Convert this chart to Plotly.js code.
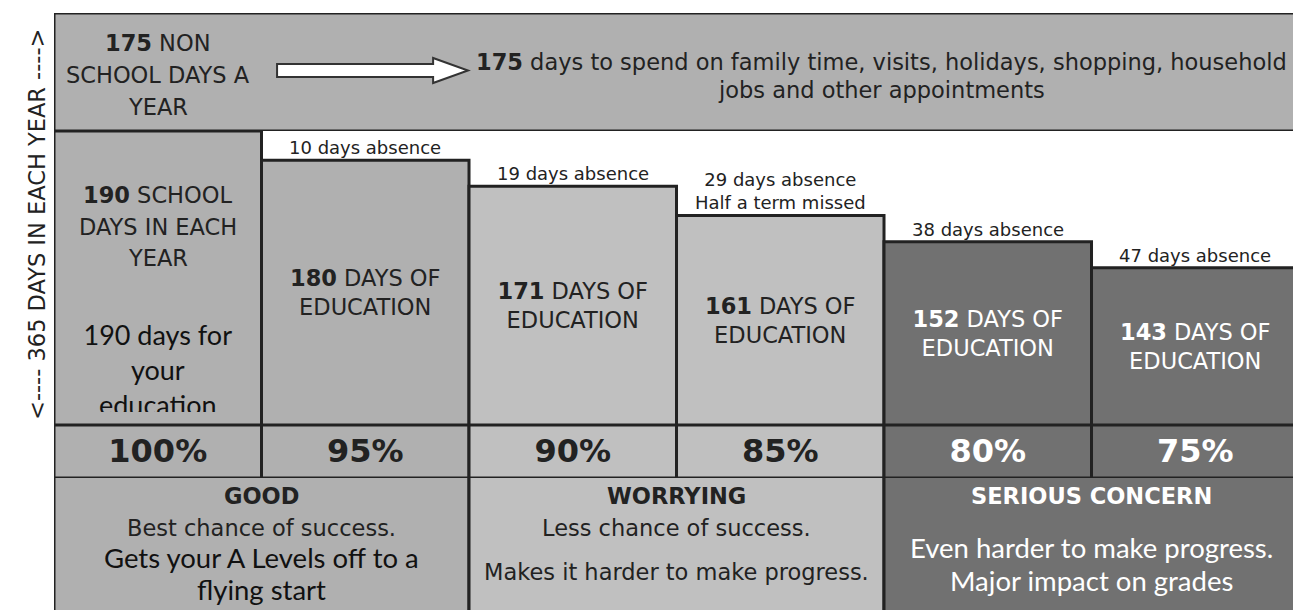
<!DOCTYPE html>
<html>
<head>
<meta charset="utf-8">
<script src="https://cdn.plot.ly/plotly-3.0.1.min.js"></script>
<style>html,body{margin:0;padding:0;background:#fff;}#chart{width:1293px;height:610px;}</style>
</head>
<body>
<div id="chart"></div>
<script>
// ---------------- DATA ----------------
const attendancePct   = [100, 95, 90, 85, 80, 75];
const educationDays   = [190, 180, 171, 161, 152, 143];
const absenceDays     = [0, 10, 19, 29, 38, 47];
const absenceNotes    = ['', '', '', 'Half a term missed', '', ''];
const totalDays       = 365;
const schoolDays      = 190;
const nonSchoolDays   = 175;
const bandNames       = ['GOOD', 'WORRYING', 'SERIOUS CONCERN'];
const bandLine1       = ['Best chance of success.', 'Less chance of success.', ''];
const bandLine2       = [['Gets your A Levels off to a', 'flying start'], ['Makes it harder to make progress.'], ['Even harder to make progress.', 'Major impact on grades']];
const bandColumns     = [[0, 1], [2, 3], [4, 5]];

// ---------------- STYLE ----------------
const colColors  = ['#b0b0b0', '#b0b0b0', '#c0c0c0', '#c0c0c0', '#717171', '#717171'];
const colText    = ['#222', '#222', '#222', '#222', '#fff', '#fff'];
const bandColors = ['#b0b0b0', '#c0c0c0', '#717171'];
const bandText   = ['#222', '#222', '#fff'];
const bandText2  = ['#111', '#222', '#fff'];
const edge = {color: '#222', width: 3};
const VERDANA = 'DejaVu Sans, Verdana, sans-serif';
const CALIBRI = 'Lato, Open Sans, sans-serif';

const xs = attendancePct.map((_, i) => i);
const barMin = 89; // visual baseline of the bar panel
const bandX = bandColumns.map(c => (c[0] + c[c.length - 1]) / 2);
const bandW = bandColumns.map(c => c.length);

const traces = [];
// bottom verdict row
traces.push({
  type: 'bar', xaxis: 'x', yaxis: 'y', x: bandX, width: bandW,
  y: bandNames.map(() => 1.2), base: bandNames.map(() => -0.1),
  marker: {color: bandColors, line: edge}, cliponaxis: false, hoverinfo: 'skip', showlegend: false
});
// percent row
traces.push({
  type: 'bar', xaxis: 'x', yaxis: 'y2', x: xs, width: xs.map(() => 1),
  y: xs.map(() => 1), base: xs.map(() => 0),
  marker: {color: colColors, line: edge}, cliponaxis: false,
  text: attendancePct.map(p => '<b>' + p + '%</b>'), textposition: 'inside', insidetextanchor: 'middle',
  constraintext: 'none', textangle: 0,
  textfont: {family: VERDANA, size: 32, color: colText},
  hoverinfo: 'skip', showlegend: false
});
// education-days bars
traces.push({
  type: 'bar', xaxis: 'x', yaxis: 'y3', x: xs, width: xs.map(() => 1),
  y: educationDays.map(d => d - barMin), base: educationDays.map(() => barMin),
  marker: {color: colColors, line: edge}, cliponaxis: false,
  text: educationDays.map((d, i) => i === 0 ? '' : '<b>' + d + '</b> DAYS OF<br>EDUCATION'),
  textposition: 'inside', insidetextanchor: 'middle', constraintext: 'none', textangle: 0,
  textfont: {family: VERDANA, size: 22.5, color: colText},
  hoverinfo: 'skip', showlegend: false
});
// top non-school band
traces.push({
  type: 'bar', xaxis: 'x', yaxis: 'y4', x: [2.5], width: [6],
  y: [1], base: [0],
  marker: {color: '#b0b0b0', line: edge}, cliponaxis: false, hoverinfo: 'skip', showlegend: false
});
// clipped text in first column
traces.push({
  type: 'scatter', mode: 'text', xaxis: 'x', yaxis: 'y5', x: [0], y: [0.139],
  text: [schoolDays + ' days for<br>your<br>education'],
  textfont: {family: CALIBRI, size: 27, color: '#111'}, cliponaxis: true,
  hoverinfo: 'skip', showlegend: false
});

const annotations = [];
function label(xref, yref, x, y, text, font, extra) {
  annotations.push(Object.assign({xref: xref, yref: yref, x: x, y: y, text: text, font: font, showarrow: false}, extra || {}));
}
// absence labels
educationDays.forEach((d, i) => {
  if (absenceDays[i] > 0) {
    label('x', 'y3', i, d, absenceDays[i] + ' days absence' + (absenceNotes[i] ? '<br>' + absenceNotes[i] : ''),
      {family: VERDANA, size: 18, color: '#222'}, {yanchor: 'bottom'});
  }
});
// first column header (one line each)
const headFont = {family: VERDANA, size: 22.5, color: '#222'};
label('x', 'y3', 0, 168.0, '<b>' + schoolDays + '</b> SCHOOL', headFont);
label('x', 'y3', 0, 157.0, 'DAYS IN EACH', headFont);
label('x', 'y3', 0, 146.4, 'YEAR', headFont);
// top band texts
label('x', 'y4', 0, 0.746, '<b>' + nonSchoolDays + '</b> NON', headFont);
label('x', 'y4', 0, 0.475, 'SCHOOL DAYS A', headFont);
label('x', 'y4', 0, 0.203, 'YEAR', headFont);
label('x', 'y4', 3.486, 0.585, '<b>' + nonSchoolDays + '</b> days to spend on family time, visits, holidays, shopping, household', headFont);
label('x', 'y4', 3.486, 0.347, 'jobs and other appointments', headFont);
// verdict row texts
const line1Y = 0.621, headY = 0.864;
const line2Y = [[0.394, 0.152], [0.288], [0.477, 0.227]];
bandNames.forEach((b, k) => {
  label('x', 'y', bandX[k], headY, '<b>' + b + '</b>', {family: VERDANA, size: 22.5, color: bandText[k]});
  if (bandLine1[k]) label('x', 'y', bandX[k], line1Y, bandLine1[k], {family: VERDANA, size: 22.5, color: bandText[k]});
  bandLine2[k].forEach((t, j) => {
    const calibri = k !== 1;
    label('x', 'y', bandX[k], line2Y[k][j], t,
      {family: calibri ? CALIBRI : VERDANA, size: calibri ? 27.5 : 22.5, color: bandText2[k]});
  });
});
// side label
label('paper', 'paper', -0.0258, 0.645, '<---- ' + totalDays + ' DAYS IN EACH YEAR ---->',
  {family: VERDANA, size: 22.5, color: '#222'}, {textangle: -90});

const arrowPath = 'M 0.575 0.568 L 1.327 0.568 L 1.327 0.619 L 1.495 0.513 L 1.327 0.407 L 1.327 0.458 L 0.575 0.458 Z';

const hidden = {visible: false, fixedrange: true};
const layout = {
  width: 1293, height: 610,
  margin: {l: 54, r: 0, t: 13, b: 0, pad: 0},
  paper_bgcolor: '#fff', plot_bgcolor: 'rgba(0,0,0,0)',
  barmode: 'overlay', showlegend: false,
  xaxis: Object.assign({range: [-0.5, 5.471]}, hidden),
  yaxis:  Object.assign({domain: [0, 0.2211], range: [0, 1]}, hidden),
  yaxis2: Object.assign({domain: [0.2211, 0.3099], range: [0, 1]}, hidden),
  yaxis3: Object.assign({domain: [0.3099, 0.8023], range: [barMin, schoolDays]}, hidden),
  yaxis4: Object.assign({domain: [0.8023, 1], range: [0, 1]}, hidden),
  yaxis5: Object.assign({domain: [0.3317, 0.8023], range: [0, 1]}, hidden),
  annotations: annotations,
  shapes: [{type: 'path', xref: 'x', yref: 'y4', path: arrowPath, fillcolor: '#fff', line: {color: '#333', width: 2}, layer: 'above'}]
};

Plotly.newPlot('chart', traces, layout, {displayModeBar: false, staticPlot: true});
</script>
</body>
</html>
